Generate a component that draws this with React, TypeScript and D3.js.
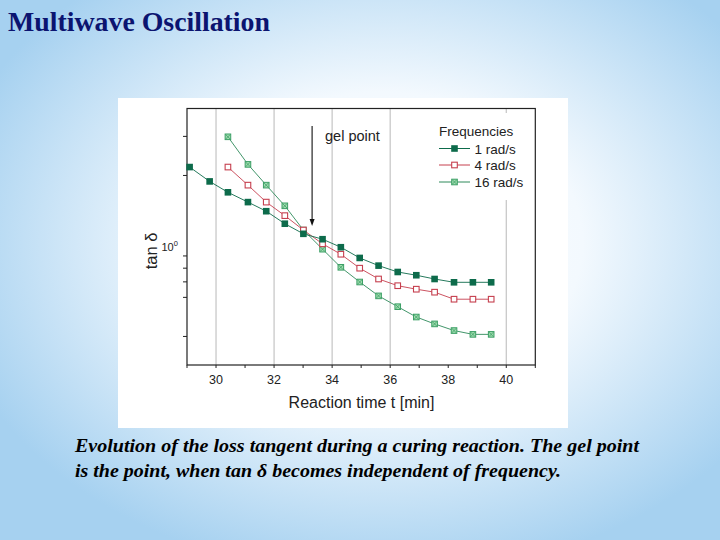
import * as d3 from "d3";

// reaction time [min]
const times = [29.09, 29.78, 30.41, 31.10, 31.73, 32.37, 33.01, 33.67, 34.30, 34.95, 35.60, 36.26, 36.90, 37.53, 38.20, 38.85, 39.48];

// tan delta for each frequency (null = not measured)
const tan1 = [2.15, 1.90, 1.73, 1.59, 1.47, 1.32, 1.21, 1.155, 1.078, 0.983, 0.920, 0.871, 0.847, 0.820, 0.797, 0.797, 0.797];
const tan4 = [null, null, 2.15, 1.84, 1.59, 1.415, 1.25, 1.11, 1.015, 0.900, 0.820, 0.774, 0.751, 0.732, 0.689, 0.689, 0.689];
const tan16 = [null, null, 2.79, 2.20, 1.84, 1.54, 1.25, 1.06, 0.907, 0.799, 0.709, 0.646, 0.591, 0.557, 0.526, 0.509, 0.509];

const seriesNames = ["1 rad/s", "4 rad/s", "16 rad/s"];
const xTicks = [30, 32, 34, 36, 38, 40];
const xMinorTicks = [29, 30, 31, 32, 33, 34, 35, 36, 37, 38, 39, 40, 41];
const xGrid = [30, 32, 34, 36, 40];
const yTicks = [0.5, 0.7, 0.8, 0.9, 1, 2, 2.8];
const gelPoint = 33.31;

const W = 720;
const H = 540;
const plot = { left: 187, right: 535.3, top: 108.5, bottom: 365 };

const dark = "#0d6b4b";
const red = "#c6404f";
const lightFill = "#9fdcae";
const lightStroke = "#3c9f66";
const lightLine = "#2e8a5a";
const font = "'Liberation Sans', Arial, sans-serif";
const serif = "'Liberation Serif', 'Times New Roman', serif";

type Pt = { t: number; v: number };

function App() {
  const x = d3.scaleLinear().domain([29, 41]).range([plot.left, plot.right]);
  const y = d3.scaleLog().domain([0.391, 3.56]).range([plot.bottom, plot.top]);

  const toPts = (vals: (number | null)[]): Pt[] =>
    times.map((t, i) => ({ t, v: vals[i] as number })).filter((_, i) => vals[i] != null);

  const line = d3.line<Pt>().x(d => x(d.t)).y(d => y(d.v));
  const s1 = toPts(tan1);
  const s4 = toPts(tan4);
  const s16 = toPts(tan16);

  const sq = 3.3;
  const filled = (cx: number, cy: number, k: string) => (
    <rect key={k} x={cx - sq} y={cy - sq} width={sq * 2} height={sq * 2} fill={dark} />
  );
  const open = (cx: number, cy: number, k: string) => (
    <rect key={k} x={cx - sq + 0.5} y={cy - sq + 0.5} width={sq * 2 - 1} height={sq * 2 - 1} fill="white" stroke={red} strokeWidth={1.1} />
  );
  const hatched = (cx: number, cy: number, k: string) => (
    <g key={k}>
      <rect x={cx - sq + 0.5} y={cy - sq + 0.5} width={sq * 2 - 1} height={sq * 2 - 1} fill={lightFill} stroke={lightStroke} strokeWidth={1} />
      <path d={`M${cx - sq + 1},${cy - sq + 1}L${cx + sq - 1},${cy + sq - 1}M${cx + sq - 1},${cy - sq + 1}L${cx - sq + 1},${cy + sq - 1}`} stroke={lightStroke} strokeWidth={0.8} />
    </g>
  );

  const legendY = [148.5, 165, 182];
  const legendX = 439;

  return (
    <svg width={W} height={H} style={{ position: "absolute", left: 0, top: 0 }}>
      <defs>
        <radialGradient id="bg" cx="0.53" cy="0.45" r="0.62">
          <stop offset="0" stopColor="#ffffff" />
          <stop offset="0.45" stopColor="#f3f9fe" />
          <stop offset="1" stopColor="#a6d1f0" />
        </radialGradient>
      </defs>
      <rect width={W} height={H} fill="url(#bg)" />

      <text x={8} y={31} fontFamily={serif} fontWeight="bold" fontSize={27.5} fill="#0b1470" textLength={262} lengthAdjust="spacingAndGlyphs">
        Multiwave Oscillation
      </text>

      {/* chart box */}
      <rect x={118} y={98} width={450} height={330} fill="white" />

      {/* grid */}
      {xGrid.map(g => (
        <line key={g} x1={x(g)} x2={x(g)} y1={plot.top} y2={plot.bottom} stroke="#c4c4c4" strokeWidth={1.2} />
      ))}

      {/* legend background */}
      <rect x={433} y={113} width={98} height={87} fill="white" />

      {/* frame */}
      <rect x={plot.left} y={plot.top} width={plot.right - plot.left} height={plot.bottom - plot.top} fill="none" stroke="#222" strokeWidth={1.2} />

      {xMinorTicks.map(t => (
        <line key={t} x1={x(t)} x2={x(t)} y1={plot.bottom} y2={plot.bottom + 3} stroke="#222" strokeWidth={1} />
      ))}
      {xTicks.map(t => (
        <text key={t} x={x(t)} y={383.5} textAnchor="middle" fontFamily={font} fontSize={12.5} fill="#222">
          {t}
        </text>
      ))}
      {yTicks.map(v => (
        <line key={v} x1={plot.left - 4} x2={plot.left} y1={y(v)} y2={y(v)} stroke="#222" strokeWidth={1} />
      ))}
      <text x={161.5} y={250.5} fontFamily={font} fontSize={11} fill="#222">
        10<tspan dy={-5} fontSize={7.5}>0</tspan>
      </text>

      <text x={361.5} y={407.5} textAnchor="middle" fontFamily={font} fontSize={16} fill="#222">
        Reaction time t [min]
      </text>
      <text transform="translate(156.5,251) rotate(-90)" textAnchor="middle" fontFamily={font} fontSize={16.5} fill="#222">
        tan δ
      </text>

      {/* series */}
      <path d={line(s16) ?? ""} fill="none" stroke={lightLine} strokeWidth={0.9} />
      <path d={line(s4) ?? ""} fill="none" stroke={red} strokeWidth={0.9} />
      <path d={line(s1) ?? ""} fill="none" stroke={dark} strokeWidth={0.9} />
      {s16.map((d, i) => hatched(x(d.t), y(d.v), "h" + i))}
      {s4.map((d, i) => open(x(d.t), y(d.v), "o" + i))}
      {s1.map((d, i) => filled(x(d.t), y(d.v), "f" + i))}

      {/* gel point arrow */}
      <line x1={x(gelPoint)} x2={x(gelPoint)} y1={126} y2={222} stroke="#111" strokeWidth={1.1} />
      <path d={`M${x(gelPoint) - 2.5},${219}L${x(gelPoint) + 2.5},${219}L${x(gelPoint)},${226}Z`} fill="#111" />
      <text x={325} y={140.5} fontFamily={font} fontSize={14.5} fill="#222">
        gel point
      </text>

      {/* legend */}
      <text x={legendX} y={135.5} fontFamily={font} fontSize={13.5} fill="#222">
        Frequencies
      </text>
      {seriesNames.map((name, i) => {
        const ly = legendY[i];
        const col = i === 0 ? dark : i === 1 ? red : lightLine;
        const mx = legendX + 15.5;
        return (
          <g key={name}>
            <line x1={legendX} x2={legendX + 31} y1={ly} y2={ly} stroke={col} strokeWidth={1} />
            {i === 0 ? filled(mx, ly, "lf") : i === 1 ? open(mx, ly, "lo") : hatched(mx, ly, "lh")}
            <text x={474.5} y={ly + 5} fontFamily={font} fontSize={13.5} fill="#222">
              {name}
            </text>
          </g>
        );
      })}

      {/* caption */}
      <g fontFamily={serif} fontWeight="bold" fontStyle="italic" fontSize={18} fill="#000">
        <text x={75} y={452} textLength={564} lengthAdjust="spacingAndGlyphs">
          Evolution of the loss tangent during a curing reaction. The gel point
        </text>
        <text x={75} y={477} textLength={486} lengthAdjust="spacingAndGlyphs">
          is the point, when tan δ becomes independent of frequency.
        </text>
      </g>
    </svg>
  );
}

export default App;
